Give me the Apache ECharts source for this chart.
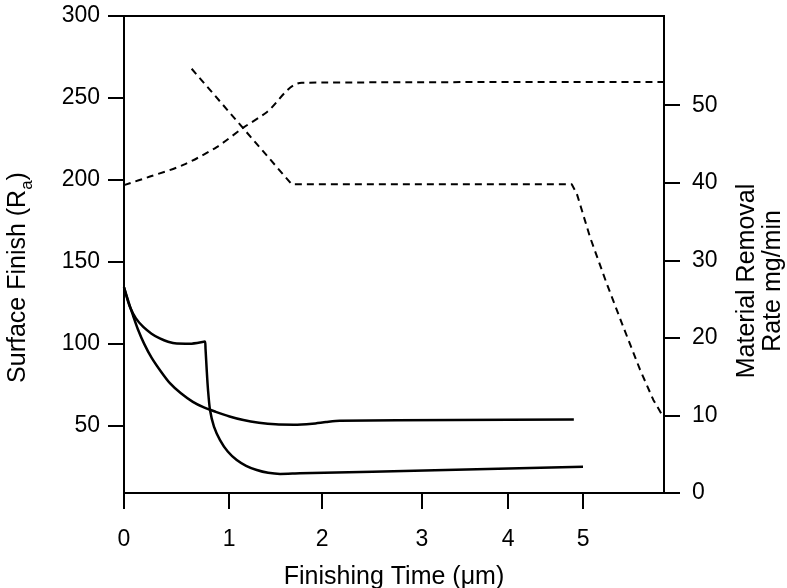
<!DOCTYPE html>
<html>
<head>
<meta charset="utf-8">
<script src="https://cdn.jsdelivr.net/npm/echarts@6/dist/echarts.min.js"></script>
<style>
  html, body { margin: 0; padding: 0; background: #fff; }
  #chart { width: 787px; height: 588px; }
</style>
</head>
<body>
<div id="chart"></div>
<script>
// x axis of the source figure is not evenly spaced, so labels sit where the figure puts them
const xTickLabels = ['0', '1', '2', '3', '4', '5'];
const xTickAt = [0, 1.144, 2.157, 3.246, 4.183, 5];
const finishTicks = [50, 100, 150, 200, 250, 300];
const rateTicks = [0, 10, 20, 30, 40, 50];

// surface finish (left axis) - curve with the cusp
const finishA = [
  [0, 134.4], [0.03, 128.5], [0.065, 122.5], [0.13, 115.5], [0.21, 110.3],
  [0.3, 106.2], [0.39, 103.3], [0.48, 101.3], [0.574, 100.2], [0.72, 100.1],
  [0.882, 101.4], [0.888, 97], [0.901, 84], [0.915, 72], [0.937, 59.6],
  [0.98, 49.5], [1.046, 41.3], [1.13, 34.3], [1.228, 29.1], [1.33, 25.6],
  [1.446, 23.0], [1.57, 21.3], [1.70, 20.6], [1.917, 21.0], [3.5, 23.0], [5.0, 25.0]
];
// surface finish (left axis) - smooth decay
const finishB = [
  [0, 134.4], [0.05, 125.4], [0.1, 117.0], [0.15, 109.1], [0.22, 100.0],
  [0.3, 91.6], [0.4, 83.3], [0.5, 76.0], [0.62, 69.8], [0.75, 64.6],
  [0.87, 61.2], [1.0, 58.5], [1.15, 55.7], [1.3, 53.5], [1.47, 51.9],
  [1.65, 50.9], [1.85, 50.7], [2.05, 51.3], [2.2, 52.3], [2.35, 53.1],
  [3.6, 53.5], [4.9, 53.9]
];
// removal rate (right axis) - rising curve
const rateRise = [
  [0, 39.7], [0.283, 40.8], [0.646, 42.3], [1.01, 44.6], [1.30, 47.1],
  [1.555, 49.1], [1.936, 52.9], [5.882, 53.0]
];
// removal rate (right axis) - falling curve
const rateFall = [
  [0.737, 54.7], [1.827, 39.8], [4.877, 39.8], [4.932, 38.6], [5.076, 33.0],
  [5.258, 27.0], [5.439, 21.4], [5.621, 15.9], [5.766, 12.0], [5.87, 9.9]
];

const font = "'Liberation Sans', Arial, sans-serif";
const black = '#000';

const chart = echarts.init(document.getElementById('chart'), null, { renderer: 'canvas' });

function axisBase() {
  return {
    axisLine: { show: true, onZero: false, lineStyle: { color: black, width: 2 } },
    axisTick: { show: true, inside: false, length: 16, lineStyle: { color: black, width: 2 } },
    axisLabel: { color: black, fontSize: 23, fontFamily: font },
    splitLine: { show: false },
    nameTextStyle: { color: black, fontSize: 25, fontFamily: font }
  };
}

const xAxis = Object.assign(axisBase(), {
  type: 'value',
  min: 0,
  max: 5.882,
  name: 'Finishing Time (\u03bcm)',
  nameLocation: 'middle',
  nameGap: 72
});
xAxis.axisTick.customValues = xTickAt;
xAxis.axisLabel.customValues = xTickAt;
xAxis.axisLabel.margin = 35;
xAxis.axisLabel.formatter = function (v) {
  let best = 0;
  xTickAt.forEach((t, i) => { if (Math.abs(t - v) < Math.abs(xTickAt[best] - v)) best = i; });
  return xTickLabels[best];
};

const yLeft = Object.assign(axisBase(), {
  type: 'value',
  position: 'left',
  min: 9,
  max: 300,
  name: '{n|Surface Finish (R}{s|a}{n|)}',
  nameLocation: 'middle',
  nameGap: 88
});
yLeft.axisTick.customValues = finishTicks;
yLeft.axisLabel.customValues = finishTicks;
yLeft.axisLabel.margin = 24;
yLeft.nameTextStyle.padding = [0, 46, 0, 0];
yLeft.nameTextStyle.rich = {
  n: { fontSize: 25, fontFamily: font, color: black, verticalAlign: 'bottom', padding: [0, 0, 5, 0] },
  s: { fontSize: 17, fontFamily: font, color: black, verticalAlign: 'bottom' }
};

const yRight = Object.assign(axisBase(), {
  type: 'value',
  position: 'right',
  min: 0,
  max: 61.5,
  name: 'Material Removal\nRate mg/min',
  nameLocation: 'middle',
  nameGap: 70
});
yRight.axisTick.customValues = rateTicks;
yRight.axisLabel.customValues = rateTicks;
yRight.axisLabel.margin = 28;
yRight.nameTextStyle.lineHeight = 26;
yRight.nameTextStyle.padding = [0, 53, 0, 0];

function solid(data) {
  return {
    type: 'line', data: data, yAxisIndex: 0, showSymbol: false, smooth: 0.25,
    lineStyle: { color: black, width: 2.5 }, silent: true
  };
}
function dashed(data, smooth) {
  return {
    type: 'line', data: data, yAxisIndex: 1, showSymbol: false, smooth: smooth,
    lineStyle: { color: black, width: 2, type: [7, 5] }, silent: true
  };
}

chart.setOption({
  animation: false,
  backgroundColor: '#fff',
  grid: {
    left: 124, right: 123, top: 16, bottom: 95,
    outerBoundsMode: 'none', containLabel: false,
    show: true, borderColor: black, borderWidth: 2, backgroundColor: 'transparent'
  },
  xAxis: xAxis,
  yAxis: [yLeft, yRight],
  series: [solid(finishA), solid(finishB), dashed(rateRise, 0.3), dashed(rateFall, false)]
});
</script>
</body>
</html>
